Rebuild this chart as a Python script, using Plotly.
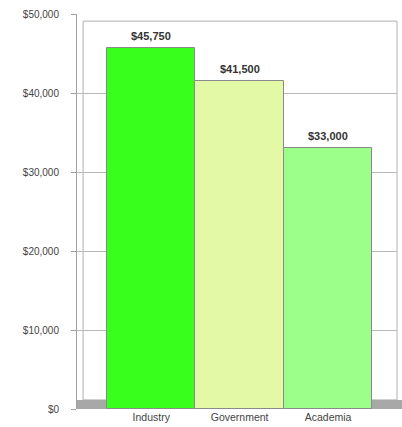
import plotly.graph_objects as go

categories = ["Industry", "Government", "Academia"]
salaries = [45750, 41500, 33000]
bar_colors = ["#38FF1C", "#E4F9A6", "#9CFF8A"]
y_ticks = [0, 10000, 20000, 30000, 40000, 50000]
y_tick_labels = ["$0", "$10,000", "$20,000", "$30,000", "$40,000", "$50,000"]

FONT = "Liberation Sans, Arial, sans-serif"

fig = go.Figure()
fig.add_trace(go.Bar(
    x=categories, y=salaries,
    marker=dict(color=bar_colors, line=dict(color="#8a8a8a", width=1)),
    width=1.0,
    hoverinfo="skip",
))

for c, v in zip(categories, salaries):
    fig.add_annotation(x=c, y=v, text=f"<b>${v:,}</b>", showarrow=False,
                       yshift=12, font=dict(family=FONT, size=11, color="#333333"))

# back wall border and floor
fig.add_shape(type="rect", xref="paper", yref="paper", x0=0.019, x1=1.0, y0=0.023, y1=0.982,
              line=dict(color="#b0b0b0", width=1), fillcolor="rgba(0,0,0,0)", layer="below")
fig.add_shape(type="rect", xref="paper", yref="paper", x0=0.0, x1=1.016, y0=0.0, y1=0.023,
              line=dict(width=0), fillcolor="#a8a8a8", layer="below")

fig.update_layout(
    width=402, height=427,
    margin=dict(l=77, r=5, t=14, b=18),
    paper_bgcolor="white", plot_bgcolor="white",
    showlegend=False, bargap=0,
    font=dict(family=FONT, size=10, color="#444444"),
    xaxis=dict(range=[-0.84, 2.78], showline=False, ticks="", showgrid=False,
               tickfont=dict(size=10.5, color="#444444"), automargin=False),
    yaxis=dict(range=[0, 50000], tickvals=y_ticks, ticktext=y_tick_labels,
               showline=True, linecolor="#a0a0a0", linewidth=1,
               ticks="outside", ticklen=5, tickcolor="#a0a0a0",
               showgrid=True, gridcolor="#b8b8b8", gridwidth=1,
               zeroline=False, ticklabelstandoff=10,
               tickfont=dict(size=10, color="#444444"), automargin=False),
)

fig.write_html("out.html", config={"displayModeBar": False},
               post_script="document.body.style.margin='0';document.body.style.overflow='hidden';")
